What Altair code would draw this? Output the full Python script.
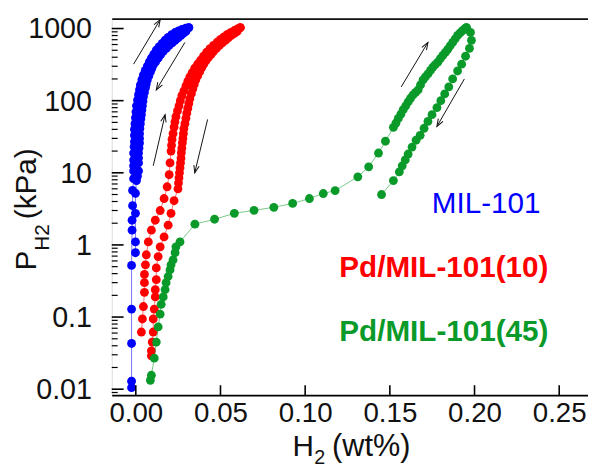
import altair as alt
import pandas as pd

W, H = 482, 381

series_names = ["MIL-101", "Pd/MIL-101(10)", "Pd/MIL-101(45)"]
series_colors = ["#0000FF", "#FF0000", "#0A9A2A"]

# MIL-101 adsorption / desorption  (H2 wt%, P kPa)
mil_ads_x = [-0.0025, -0.0025, -0.0025, -0.0025, -0.0025, -0.0022, -0.0022, -0.0019, -0.0019, -0.0013,
             -0.0013, -0.0013, -0.0013, -0.0013, -0.0010, -0.0008, -0.0008, -0.0008, -0.0005, -0.0002,
             0.0001, 0.0004, 0.0010, 0.0016, 0.0022, 0.0027, 0.0036, 0.0045, 0.0056, 0.0068,
             0.0080, 0.0092, 0.0106, 0.0121, 0.0138, 0.0156, 0.0173, 0.0191, 0.0212, 0.0232,
             0.0252, 0.0272, 0.0295, 0.0313]
mil_ads_p = [0.0105, 0.0129, 0.043, 0.129, 0.52, 1.6, 2.2, 3.5, 5.7, 8.3,
             10.6, 12.5, 15, 18.8, 23, 27, 33, 40, 48, 58,
             70, 85, 102, 121, 142, 166, 195, 227, 262, 302,
             345, 388, 440, 500, 560, 623, 690, 753, 820, 881,
             930, 969, 1010, 1032]
mil_des_x = [0.0313, 0.0296, 0.0280, 0.0267, 0.0250, 0.0232, 0.0215, 0.0197, 0.0180, 0.0162,
             0.0147, 0.0132, 0.0117, 0.0103, 0.0094, 0.0086, 0.0077, 0.0068, 0.0062, 0.0057,
             0.0051, 0.0045, 0.0042, 0.0039, 0.0036, 0.0033, 0.0030, 0.0027, 0.0024, 0.0022,
             0.0022, 0.0022, 0.0019, 0.0016, 0.0016, 0.0016, 0.0016, 0.0010, 0.0004, -0.0002,
             -0.0002, -0.0002, -0.0002]
mil_des_p = [1032, 910, 855, 802, 740, 685, 635, 585, 530, 484,
             435, 388, 345, 311, 278, 250, 220, 194, 170, 151,
             130, 113, 98, 85, 74, 64, 56, 48, 41, 35,
             30, 25.8, 22, 18.8, 16, 13.7, 10.6, 9, 7.8, 5.2,
             2.74, 1.10, 0.78]

# Pd/MIL-101(10)
pd10_ads_x = [0.0033, 0.0039, 0.0045, 0.0051, 0.0051, 0.0051, 0.0057, 0.0062, 0.0074, 0.0092,
              0.0115, 0.0144, 0.0167, 0.0185, 0.0197, 0.0202, 0.0208, 0.0211, 0.0214, 0.0220,
              0.0226, 0.0231, 0.0237, 0.0246, 0.0255, 0.0263, 0.0272, 0.0284, 0.0296, 0.0307,
              0.0319, 0.0333, 0.0348, 0.0365, 0.0383, 0.0400, 0.0418, 0.0438, 0.0459, 0.0480,
              0.0500, 0.0520, 0.0541, 0.0562, 0.0582, 0.0600, 0.0617]
pd10_ads_p = [0.062, 0.094, 0.14, 0.22, 0.30, 0.39, 0.53, 0.73, 1.10, 1.60,
              2.2, 3.0, 4.4, 6.4, 9.4, 13.7, 20, 24, 29, 35,
              43, 51, 60, 72, 85, 100, 117, 137, 160, 185,
              213, 245, 283, 322, 365, 415, 469, 525, 585, 645,
              707, 765, 827, 885, 939, 985, 1032]
pd10_des_x = [0.0617, 0.0599, 0.0582, 0.0564, 0.0546, 0.0529, 0.0511, 0.0494, 0.0476, 0.0459,
              0.0445, 0.0430, 0.0415, 0.0401, 0.0389, 0.0377, 0.0365, 0.0354, 0.0345, 0.0337,
              0.0328, 0.0319, 0.0313, 0.0307, 0.0301, 0.0296, 0.0290, 0.0284, 0.0281, 0.0278,
              0.0275, 0.0272, 0.0269, 0.0267, 0.0264, 0.0261, 0.0258, 0.0255, 0.0252, 0.0249,
              0.0226, 0.0208, 0.0191, 0.0167, 0.0144, 0.0132, 0.0121, 0.0121, 0.0115, 0.0115,
              0.0109, 0.0103, 0.0103, 0.0097, 0.0092, 0.0092]
pd10_des_p = [1032, 910, 855, 802, 740, 685, 635, 585, 530, 484,
              440, 401, 360, 321, 285, 250, 220, 194, 168, 146,
              125, 106, 91, 78, 67, 57, 48, 41, 35, 30,
              26, 22, 19, 16, 13.7, 11.7, 10, 8.5, 7.2, 6.0,
              4.1, 2.74, 1.88, 1.29, 0.94, 0.69, 0.48, 0.33, 0.24, 0.19,
              0.129, 0.094, 0.062, 0.045, 0.034, 0.029]

# Pd/MIL-101(45)
pd45_ads_x = [0.0086, 0.0092, 0.0109, 0.0121, 0.0132, 0.0144, 0.0150, 0.0162, 0.0173, 0.0179,
              0.0191, 0.0202, 0.0208, 0.0220, 0.0232, 0.0237, 0.0261, 0.0349, 0.0465, 0.0582,
              0.0698, 0.0815, 0.0926, 0.1025, 0.1107, 0.1177, 0.1311, 0.1375, 0.1433, 0.1474,
              0.1521, 0.1536, 0.1550, 0.1565, 0.1579, 0.1594, 0.1608, 0.1622, 0.1637, 0.1652,
              0.1667, 0.1681, 0.1696, 0.1710, 0.1725, 0.1740, 0.1754, 0.1768, 0.1783, 0.1798,
              0.1813, 0.1828, 0.1842, 0.1856, 0.1871, 0.1886, 0.1900, 0.1915, 0.1929, 0.1940,
              0.1952]
pd45_ads_p = [0.0133, 0.0156, 0.027, 0.045, 0.073, 0.110, 0.15, 0.19, 0.24, 0.30,
              0.365, 0.45, 0.53, 0.62, 0.78, 0.94, 1.10, 1.94, 2.27, 2.74,
              3.02, 3.32, 3.76, 4.40, 5.16, 5.67, 8.8, 12.1, 18.8, 27.4,
              42.7, 49, 56.8, 65, 75, 85, 96, 108, 120, 130,
              141, 165, 194, 214, 235, 262, 292, 316, 342, 383,
              426, 468, 515, 575, 641, 720, 801, 870, 934, 985,
              1031]
pd45_des_x = [0.1952, 0.1976, 0.1982, 0.1970, 0.1947, 0.1924, 0.1900, 0.1871, 0.1848, 0.1824,
              0.1801, 0.1778, 0.1749, 0.1725, 0.1702, 0.1679, 0.1655, 0.1631, 0.1608, 0.1591,
              0.1573, 0.1556, 0.1521, 0.1451]
pd45_des_p = [1031, 884, 686, 532, 413, 321, 258, 200, 155, 124,
              100, 80, 64, 51.5, 41.4, 33.1, 28.3, 22.7, 18.2, 15.1,
              12.5, 10.3, 7.8, 5.0]

# arrows: tail -> head
arrow_x1 = [-0.0013, 0.0290, 0.0103, 0.0424, 0.1567, 0.1940]
arrow_p1 = [321, 643, 12.5, 55, 155, 200]
arrow_x2 = [0.0144, 0.0121, 0.0173, 0.0348, 0.1725, 0.1778]
arrow_p2 = [1328, 141, 64, 10.0, 643, 44]
arrow_angle = [31, 211, 13, 194, 31, 210]

# series labels
label_x = [0.2069, 0.1819, 0.1819]
label_p = [2.74, 0.365, 0.0467]

x_ticks = [0.0, 0.05, 0.10, 0.15, 0.20, 0.25]
y_ticks = [0.01, 0.1, 1, 10, 100, 1000]
y_tick_labels = ["0.01", "0.1", "1", "10", "100", "1000"]
y_minor = [0.009,
           0.02, 0.03, 0.04, 0.05, 0.06, 0.07, 0.08, 0.09,
           0.2, 0.3, 0.4, 0.5, 0.6, 0.7, 0.8, 0.9,
           2, 3, 4, 5, 6, 7, 8, 9,
           20, 30, 40, 50, 60, 70, 80, 90,
           200, 300, 400, 500, 600, 700, 800, 900]

FONT = "Liberation Sans"
INK = "#111111"

rows = []
def add(name, branch, xs, ps):
    for i, (x, p) in enumerate(zip(xs, ps)):
        rows.append({"series": name, "key": name + branch, "i": i, "x": x, "p": p})

add(series_names[0], "a", mil_ads_x, mil_ads_p)
add(series_names[0], "d", mil_des_x, mil_des_p)
add(series_names[1], "a", pd10_ads_x, pd10_ads_p)
add(series_names[1], "d", pd10_des_x, pd10_des_p)
add(series_names[2], "a", pd45_ads_x, pd45_ads_p)
add(series_names[2], "d", pd45_des_x, pd45_des_p)
df = pd.DataFrame(rows)

xs = alt.Scale(domain=[-0.0142, 0.267], nice=False, zero=False)
ys = alt.Scale(type="log", domain=[0.00828, 1371], nice=False)
cscale = alt.Scale(domain=series_names, range=series_colors)

x_axis = alt.Axis(orient="bottom", values=x_ticks, format=".2f", ticks=False, grid=False, title=None,
                  labels=True, labelFont=FONT, labelFontSize=28, labelColor=INK, labelPadding=5,
                  domain=True, domainColor="#000000", domainWidth=1.6)
y_axis = alt.Axis(orient="left", values=y_ticks, ticks=False, grid=False, title=None,
                  labels=False, domain=True, domainColor="#000000", domainWidth=1.6)
top_axis = alt.Axis(orient="top", labels=False, ticks=False, grid=False, title=None,
                    domain=True, domainColor=INK, domainWidth=1.6)

points = alt.Chart(df).mark_circle(size=80, opacity=1).encode(
    x=alt.X("x:Q", scale=xs, axis=x_axis),
    y=alt.Y("p:Q", scale=ys, axis=y_axis),
    color=alt.Color("series:N", scale=cscale, legend=None),
)
lines = alt.Chart(df).mark_line(strokeWidth=1, strokeOpacity=0.55).encode(
    x=alt.X("x:Q", scale=xs, axis=None),
    y=alt.Y("p:Q", scale=ys, axis=None),
    color=alt.Color("series:N", scale=cscale, legend=None),
    detail="key:N",
    order="i:Q",
)

xt = pd.DataFrame({"v": x_ticks})
xtick_rules = alt.Chart(xt).mark_rule(color="#000000", strokeWidth=1.6).encode(
    x=alt.X("v:Q", scale=xs, axis=top_axis),
    y=alt.value(H), y2=alt.value(H - 10),
)
yt = pd.DataFrame({"v": y_ticks, "lab": y_tick_labels})
ytick_major = alt.Chart(yt).mark_rule(color="#000000", strokeWidth=1.6).encode(
    y=alt.Y("v:Q", scale=ys, axis=None),
    x=alt.value(0), x2=alt.value(12),
)
ytick_labels = alt.Chart(yt).mark_text(
    font=FONT, fontSize=29, color=INK, align="right", baseline="middle", dy=1
).encode(
    y=alt.Y("v:Q", scale=ys, axis=None),
    x=alt.value(-20),
    text="lab:N",
)
ytick_minor = alt.Chart(pd.DataFrame({"v": y_minor})).mark_rule(color="#000000", strokeWidth=1.2).encode(
    y=alt.Y("v:Q", scale=ys, axis=None),
    x=alt.value(0), x2=alt.value(6),
)

arr = pd.DataFrame({"x1": arrow_x1, "p1": arrow_p1, "x2": arrow_x2, "p2": arrow_p2, "ang": arrow_angle})
arrow_shafts = alt.Chart(arr).mark_rule(color=INK, strokeWidth=1).encode(
    x=alt.X("x1:Q", scale=xs, axis=None), y=alt.Y("p1:Q", scale=ys, axis=None),
    x2="x2:Q", y2="p2:Q",
)
arrow_heads = alt.Chart(arr).mark_point(
    shape="M-0.55,1.5L0,0L0.55,1.5", filled=False, size=100, color=INK, strokeWidth=1, opacity=1
).encode(
    x=alt.X("x2:Q", scale=xs, axis=None), y=alt.Y("p2:Q", scale=ys, axis=None),
    angle=alt.Angle("ang:Q", scale=None),
)

lab = pd.DataFrame({"t": series_names, "x": label_x, "p": label_p, "c": series_names})
label_norm = alt.Chart(lab.iloc[[0]]).mark_text(
    font=FONT, fontSize=30, fontWeight="normal", align="center", baseline="alphabetic"
).encode(
    x=alt.X("x:Q", scale=xs, axis=None), y=alt.Y("p:Q", scale=ys, axis=None),
    text="t:N", color=alt.Color("c:N", scale=cscale, legend=None),
)
label_bold = alt.Chart(lab.iloc[[1, 2]]).mark_text(
    font=FONT, fontSize=30, fontWeight="bold", align="center", baseline="alphabetic"
).encode(
    x=alt.X("x:Q", scale=xs, axis=None), y=alt.Y("p:Q", scale=ys, axis=None),
    text="t:N", color=alt.Color("c:N", scale=cscale, legend=None),
)

# axis titles with subscripts
def txt(t, x, y, size, angle=0):
    kw = dict(font=FONT, fontSize=size, align="left", baseline="alphabetic", color=INK)
    if angle:
        kw["angle"] = angle
    return alt.Chart(pd.DataFrame({"t": [t]})).mark_text(**kw).encode(
        text="t:N", x=alt.value(x), y=alt.value(y))

titles = [
    txt("P", -77, 255, 30, 270),
    txt("H2", -63, 235, 21, 270),
    txt("(kPa)", -77, 203, 30, 270),
    txt("H", 183, 443, 30),
    txt("2", 205, 451, 20),
    txt("(wt%)", 223, 443, 31),
]

chart = alt.layer(
    points, lines, xtick_rules, ytick_major, ytick_minor, ytick_labels, arrow_shafts, arrow_heads,
    label_norm, label_bold, *titles
).properties(
    width=W, height=H,
    autosize=alt.AutoSizeParams(type="none"),
    padding={"left": 105, "top": 8, "right": 0, "bottom": 71},
).configure_view(strokeWidth=0).configure(background="white")

chart.save("out.html", embed_options={"renderer": "svg", "actions": False})
